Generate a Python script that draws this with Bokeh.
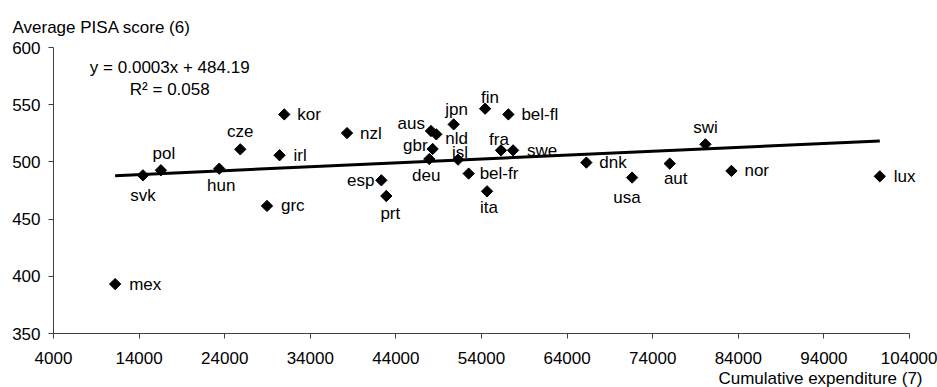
import numpy as np
from bokeh.plotting import figure
from bokeh.core.properties import value
from bokeh.models import (Range1d, FixedTicker, Title, Label, ColumnDataSource,
                          NumeralTickFormatter)
from bokeh.embed import file_html
from bokeh.resources import INLINE

# ---------------- data ----------------
countries = ["mex", "svk", "pol", "hun", "cze", "irl", "grc", "kor", "nzl", "aus",
             "nld", "jpn", "fin", "bel-fl", "gbr", "deu", "isl", "fra", "swe", "bel-fr",
             "ita", "esp", "prt", "dnk", "usa", "aut", "swi", "nor", "lux"]
expenditure = [11200, 14450, 16550, 23360, 25820, 30410, 28940, 30960, 38290, 48100,
               48720, 50750, 54420, 57140, 48290, 47900, 51260, 56280, 57690, 52500,
               54650, 42300, 42880, 66250, 71590, 75990, 80160, 83200, 100530]
pisa_score = [393.2, 488.3, 492.7, 494.1, 511.0, 505.8, 461.5, 541.5, 525.2, 527.0,
              524.1, 532.8, 546.5, 541.5, 511.3, 502.5, 502.0, 510.1, 510.1, 489.8,
              474.3, 483.9, 470.2, 499.4, 486.3, 498.5, 515.4, 492.1, 487.4]
trend_slope = 0.00034
trend_intercept = 484.19
equation_text = "y = 0.0003x + 484.19"
r2_text = "R\u00b2 = 0.058"
x_ticks = [4000, 14000, 24000, 34000, 44000, 54000, 64000, 74000, 84000, 94000, 104000]
y_ticks = [350, 400, 450, 500, 550, 600]
x_title = "Cumulative expenditure (7)"
y_title = "Average PISA score (6)"

# ---------------- label placement (screen px: dx, dy (down +), align) ----------------
placement = {
    "mex": (14, 0, "left"), "svk": (0, 20, "center"), "pol": (3, -17, "center"),
    "hun": (2, 17, "center"), "cze": (0, -18, "center"), "irl": (14, 0, "left"),
    "grc": (14, 0, "left"), "kor": (13, 0, "left"), "nzl": (13, 0, "left"),
    "aus": (-6, -8, "right"), "nld": (9, 4, "left"), "jpn": (3, -15, "center"),
    "fin": (5, -11, "center"), "bel-fl": (13, 0, "left"), "gbr": (-5, -3, "right"),
    "deu": (-3, 16, "center"), "isl": (2, -7, "center"), "fra": (-2, -11, "center"),
    "swe": (14, 0, "left"), "bel-fr": (11, 0, "left"), "ita": (2, 16, "center"),
    "esp": (-7, 0, "right"), "prt": (4, 18, "center"), "dnk": (13, 0, "left"),
    "usa": (-5, 20, "center"), "aut": (6, 15, "center"), "swi": (0, -17, "center"),
    "nor": (13, 0, "left"), "lux": (14, 0, "left"),
}

FONT = "Liberation Sans"
FS = "17px"
AXIS_COLOR = "#404040"

# frame spans 53..935 px; axis drawn from 4000 (x=53) to 104000 (x=909)
X_START, X_END = 4000, 104000
px_per_unit = (909 - 53.0) / (X_END - X_START)
x_range_end = X_START + (935 - 53.0) / px_per_unit

p = figure(width=937, height=387, output_backend="svg", toolbar_location=None,
           x_range=Range1d(X_START, x_range_end), y_range=Range1d(350, 600),
           min_border_left=53, min_border_right=2, min_border_top=47, min_border_bottom=54)
p.outline_line_color = None
p.xgrid.visible = False
p.ygrid.visible = False
p.background_fill_color = "white"
p.border_fill_color = "white"

for ax, ticks in ((p.xaxis, x_ticks), (p.yaxis, y_ticks)):
    ax.ticker = FixedTicker(ticks=ticks)
    ax.formatter = NumeralTickFormatter(format="0")
    ax.minor_tick_line_color = None
    ax.major_tick_in = 0
    ax.major_tick_out = 5
    ax.axis_line_color = AXIS_COLOR
    ax.major_tick_line_color = AXIS_COLOR
    ax.major_label_text_font = FONT
    ax.major_label_text_font_size = FS
    ax.major_label_text_color = "black"
p.xaxis.bounds = (X_START, X_END)
p.xaxis.major_label_standoff = 13
p.yaxis.major_label_standoff = 8

# title (y axis caption)
p.title.text = y_title
p.title.align = "left"
p.title.offset = -41
p.title.standoff = 22
p.title.text_font = FONT
p.title.text_font_size = FS
p.title.text_font_style = "normal"
p.title.text_color = "black"

# x axis caption below, right aligned
p.add_layout(Title(text=x_title, align="right", offset=13, standoff=0,
                   text_font=FONT, text_font_size=FS, text_font_style="normal",
                   text_color="black"), "below")

# trend line
xs = np.array([min(expenditure), max(expenditure)])
p.line(xs, trend_slope * xs + trend_intercept, line_color="black", line_width=3)

# markers
src = ColumnDataSource(dict(x=expenditure, y=pisa_score, name=countries))
p.scatter("x", "y", source=src, marker="square", angle=np.pi / 4, size=8,
          fill_color="black", line_color="black")

# labels
for align in ("left", "center", "right"):
    idx = [i for i, c in enumerate(countries) if placement[c][2] == align]
    s = ColumnDataSource(dict(
        x=[expenditure[i] for i in idx], y=[pisa_score[i] for i in idx],
        t=[countries[i] for i in idx],
        dx=[placement[countries[i]][0] for i in idx],
        dy=[placement[countries[i]][1] for i in idx]))
    p.text("x", "y", text="t", source=s, x_offset="dx", y_offset="dy",
           text_align=align, text_baseline="middle", text_font=value(FONT),
           text_font_size=value(FS), text_color="black")

# regression equation
p.add_layout(Label(x=17580, y=582.8, text=equation_text, text_align="center",
                   text_baseline="middle", text_font=FONT, text_font_size=FS,
                   text_color="black"))
p.add_layout(Label(x=17580, y=563.4, text=r2_text, text_align="center",
                   text_baseline="middle", text_font=FONT, text_font_size=FS,
                   text_color="black"))

open("out.html", "w").write(file_html(p, INLINE))
